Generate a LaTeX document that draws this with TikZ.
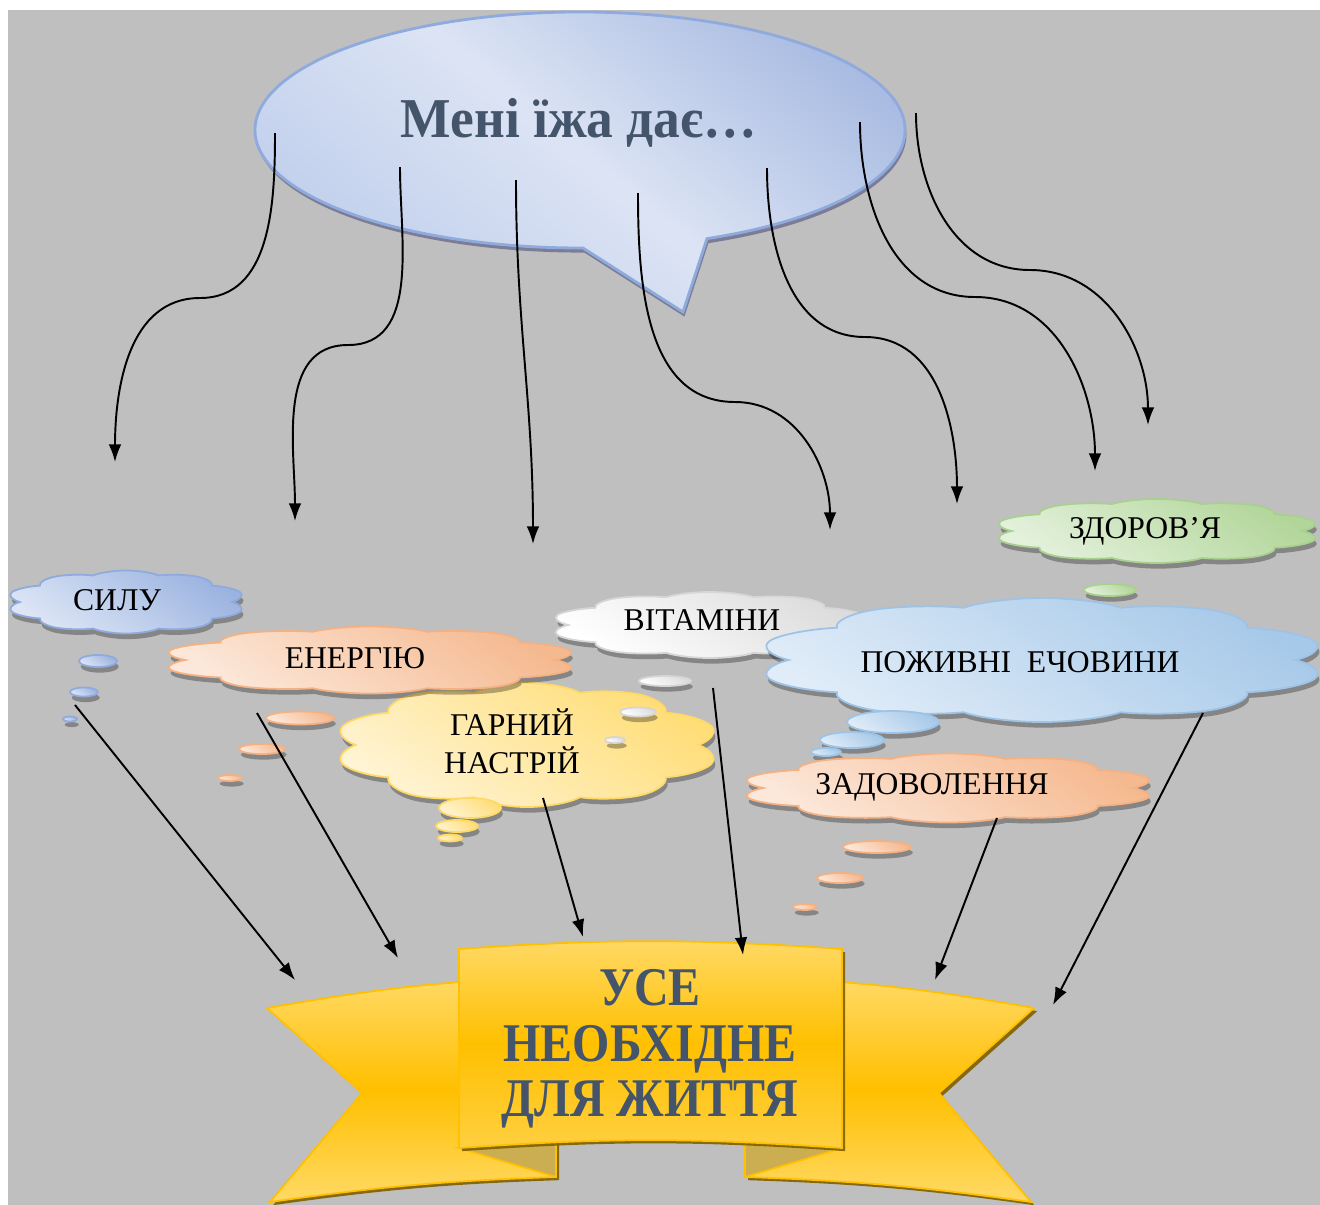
\documentclass[tikz,border=0pt]{standalone}
\usepackage{fontspec}
\setmainfont{Liberation Serif}
\newfontfamily\bannerfont[FakeStretch=0.88]{Liberation Serif}
\newfontfamily\titlefont[FakeStretch=0.95]{Liberation Serif}
\usetikzlibrary{shapes,arrows.meta,positioning,calc,shadows}
\definecolor{pagegray}{RGB}{191,191,191}
\definecolor{textslate}{RGB}{68,84,106}
\definecolor{speechedge}{RGB}{143,170,220}
\definecolor{speechlight}{RGB}{220,228,244}
\definecolor{speechdark}{RGB}{166,185,225}
\definecolor{speechlow}{RGB}{190,205,236}
\definecolor{blueedge}{RGB}{143,170,220}
\definecolor{bluelight}{RGB}{222,230,246}
\definecolor{orangeedge}{RGB}{244,177,131}
\definecolor{orangelight}{RGB}{252,232,218}
\definecolor{yellowedge}{RGB}{255,217,102}
\definecolor{yellowlight}{RGB}{255,244,212}
\definecolor{grayedge}{RGB}{214,214,214}
\definecolor{graylight}{RGB}{255,255,255}
\definecolor{skyedge}{RGB}{157,195,230}
\definecolor{skylight}{RGB}{224,236,248}
\definecolor{greenedge}{RGB}{169,209,142}
\definecolor{greenlight}{RGB}{228,241,220}
\definecolor{goldlight}{RGB}{255,217,102}
\definecolor{golddark}{RGB}{255,192,0}
\definecolor{goldmid}{RGB}{255,207,64}
\definecolor{goldfold}{RGB}{203,174,82}
\definecolor{goldshadow}{RGB}{127,96,0}
\tikzset{
  thought/.style={draw=#1edge, line width=0.5pt, top color=#1edge!85!#1light, bottom color=#1light, shading angle=-35,
    drop shadow={shadow xshift=0.5pt, shadow yshift=-1.6pt, fill=black, opacity=0.3}},
  thoughtcloud/.style={thought=#1, cloud, cloud puffs=10, cloud puff arc=120, aspect=1, minimum size=1cm, inner sep=0pt},
  bubbledot/.style={thought=#1, ellipse, inner sep=0pt},
  cloudword/.style={font=\fontsize{9}{10.8}\selectfont, align=center, inner sep=0pt},
  speech/.style={draw=speechedge, line width=0.8pt, top color=speechdark, bottom color=speechlow, middle color=speechlight,
    shading angle=-40, drop shadow={shadow xshift=0.4pt, shadow yshift=-1.3pt, fill=black!70!blue, opacity=0.35}},
  ribbonpart/.style={draw=golddark, line width=0.5pt, top color=goldlight, bottom color=goldlight, middle color=golddark,
    drop shadow={shadow xshift=0.9pt, shadow yshift=-0.9pt, fill=goldshadow, opacity=0.9}},
  ribbonfold/.style={fill=goldfold, draw=golddark, line width=0.5pt},
  givesarrow/.style={-{Latex[length=5pt,width=3.6pt]}, line width=0.55pt}
}
\begin{document}
\begin{tikzpicture}[x=0.01cm, y=0.01cm]
% Page
\useasboundingbox (0,0) rectangle (1320,-1205);
\fill[white] (0,0) rectangle (1320,-1205);
\fill[pagegray] (8,-10) rectangle (1320,-1205);

% Speech bubble
\path[speech] (583,-248) -- (683,-312) -- (707,-238.6) arc[start angle=-67, end angle=270.5, x radius=325, y radius=118] -- cycle;
\node[font=\titlefont\fontsize{16}{19}\selectfont\bfseries, text=textslate, anchor=base] (title) at (579,-137) {Мені їжа дає…};

% Ribbon banner
\path[ribbonpart] (267,-1008) to[out=10,in=182] (556,-977) -- (556,-1177) to[out=182,in=8] (270,-1202) -- (362,-1093) -- cycle;
\path[ribbonpart] (1034,-1008) to[out=170,in=-2] (745,-977) -- (745,-1177) to[out=-2,in=172] (1031,-1202) -- (939,-1093) -- cycle;
\path[ribbonfold] (459,-1148) -- (556,-1143) -- (556,-1177) -- cycle;
\path[ribbonfold] (842,-1148) -- (745,-1143) -- (745,-1177) -- cycle;
\path[ribbonpart, top color=goldlight, bottom color=goldmid, middle color=golddark] (459,-949) to[bend left=4] (842,-949) -- (842,-1148) to[bend right=4] (459,-1148) -- cycle;
\node[font=\bannerfont\fontsize{15.5}{15.8}\selectfont\bfseries, text=textslate, align=center] (motto) at (650,-1049) {УСЕ\\НЕОБХІДНЕ\\ДЛЯ ЖИТТЯ};

% Thought clouds
\node[thoughtcloud=green, shift={(1157,-531)}, xscale=3.28, yscale=0.64] (zdorovia) at (0,0) {};
\node[cloudword] (zdoroviatext) at (1145,-531) {ЗДОРОВ’Я};
\node[bubbledot=green, minimum width=0.52cm, minimum height=0.12cm] (zdorovia1) at (1110,-590) {};

\node[thoughtcloud=yellow, shift={(527,-745)}, xscale=3.87, yscale=1.24] (nastrii) at (0,0) {};
\node[cloudword] (nastriitext) at (512,-741) {ГАРНИЙ\\НАСТРІЙ};
\node[bubbledot=yellow, minimum width=0.62cm, minimum height=0.2cm] (nastrii1) at (470,-808) {};
\node[bubbledot=yellow, minimum width=0.42cm, minimum height=0.12cm] (nastrii2) at (457,-826) {};
\node[bubbledot=yellow, minimum width=0.24cm, minimum height=0.07cm] (nastrii3) at (450,-838) {};

\node[thoughtcloud=blue, shift={(126,-602)}, xscale=2.4, yscale=0.63] (sylu) at (0,0) {};
\node[cloudword] (sylutext) at (117,-600) {СИЛУ};
\node[bubbledot=blue, minimum width=0.38cm, minimum height=0.12cm] (sylu1) at (98,-661) {};
\node[bubbledot=blue, minimum width=0.28cm, minimum height=0.09cm] (sylu2) at (84,-692) {};
\node[bubbledot=blue, minimum width=0.14cm, minimum height=0.05cm] (sylu3) at (70,-719) {};

\node[thoughtcloud=orange, shift={(370,-660)}, xscale=4.17, yscale=0.67] (enerhiiu) at (0,0) {};
\node[cloudword] (enerhiiutext) at (355,-658) {ЕНЕРГІЮ};
\node[bubbledot=orange, minimum width=0.68cm, minimum height=0.13cm] (enerhiiu1) at (300,-718) {};
\node[bubbledot=orange, minimum width=0.46cm, minimum height=0.1cm] (enerhiiu2) at (262,-749) {};
\node[bubbledot=orange, minimum width=0.24cm, minimum height=0.06cm] (enerhiiu3) at (230,-778) {};

\node[thoughtcloud=gray, shift={(710,-625)}, xscale=3.2, yscale=0.66] (vitaminy) at (0,0) {};
\node[cloudword] (vitaminytext) at (702,-620) {ВІТАМІНИ};
\node[bubbledot=gray, minimum width=0.52cm, minimum height=0.1cm] (vitaminy1) at (665,-681) {};
\node[bubbledot=gray, minimum width=0.36cm, minimum height=0.09cm] (vitaminy2) at (638,-712) {};
\node[bubbledot=gray, minimum width=0.2cm, minimum height=0.06cm] (vitaminy3) at (615,-740) {};

\node[thoughtcloud=sky, shift={(1042,-660)}, xscale=5.72, yscale=1.24] (rechovyny) at (0,0) {};
\node[cloudword] (rechovynytext) at (1020,-662) {ПОЖИВНІ\ \ ЕЧОВИНИ};
\node[bubbledot=sky, minimum width=0.92cm, minimum height=0.22cm] (rechovyny1) at (893,-722) {};
\node[bubbledot=sky, minimum width=0.64cm, minimum height=0.16cm] (rechovyny2) at (852,-740) {};
\node[bubbledot=sky, minimum width=0.3cm, minimum height=0.08cm] (rechovyny3) at (826,-752) {};

\node[thoughtcloud=orange, shift={(948,-788)}, xscale=4.17, yscale=0.69] (zadovolennia) at (0,0) {};
\node[cloudword] (zadovolenniatext) at (932,-787) {ЗАДОВОЛЕННЯ};
\node[bubbledot=orange, minimum width=0.68cm, minimum height=0.12cm] (zadovolennia1) at (877,-847) {};
\node[bubbledot=orange, minimum width=0.46cm, minimum height=0.1cm] (zadovolennia2) at (840,-878) {};
\node[bubbledot=orange, minimum width=0.24cm, minimum height=0.06cm] (zadovolennia3) at (805,-907) {};

% Arrow ends
\coordinate (s1) at (275,-133); \coordinate (m1) at (200,-298); \coordinate (e1) at (115,-462);
\coordinate (s2) at (400,-167); \coordinate (m2) at (348,-345); \coordinate (e2) at (295,-521);
\coordinate (s3) at (516,-180); \coordinate (e3) at (533,-544);
\coordinate (s4) at (638,-193); \coordinate (m4) at (735,-402); \coordinate (e4) at (830,-530);
\coordinate (s5) at (767,-168); \coordinate (m5) at (865,-337); \coordinate (e5) at (957,-504);
\coordinate (s6) at (860,-122); \coordinate (m6) at (975,-297); \coordinate (e6) at (1095,-471);
\coordinate (s7) at (916,-113); \coordinate (m7) at (1030,-270); \coordinate (e7) at (1148,-425);

% Food gives ...
\draw[givesarrow] (s1) to[out=-90,in=0] (m1) to[out=180,in=90] (e1);
\draw[givesarrow] (s2) to[out=-90,in=0] (m2) to[out=180,in=90] (e2);
\draw[givesarrow] (s3) to[out=-90,in=90] (e3);
\draw[givesarrow] (s4) to[out=-90,in=180] (m4) to[out=0,in=90] (e4);
\draw[givesarrow] (s5) to[out=-90,in=180] (m5) to[out=0,in=90] (e5);
\draw[givesarrow] (s6) to[out=-90,in=180] (m6) to[out=0,in=90] (e6);
\draw[givesarrow] (s7) to[out=-90,in=180] (m7) to[out=0,in=90] (e7);

% ... all that life needs
\coordinate (a1) at (75,-705);   \coordinate (b1) at (295,-980);
\coordinate (a2) at (257,-713);  \coordinate (b2) at (398,-958);
\coordinate (a3) at (543,-798);  \coordinate (b3) at (583,-937);
\coordinate (a4) at (713,-688);  \coordinate (b4) at (743,-955);
\coordinate (a5) at (997,-818);  \coordinate (b5) at (935,-980);
\coordinate (a6) at (1203,-713); \coordinate (b6) at (1053,-1005);
\draw[givesarrow] (a1) -- (b1);
\draw[givesarrow] (a2) -- (b2);
\draw[givesarrow] (a3) -- (b3);
\draw[givesarrow] (a4) -- (b4);
\draw[givesarrow] (a5) -- (b5);
\draw[givesarrow] (a6) -- (b6);
\end{tikzpicture}
\end{document}
